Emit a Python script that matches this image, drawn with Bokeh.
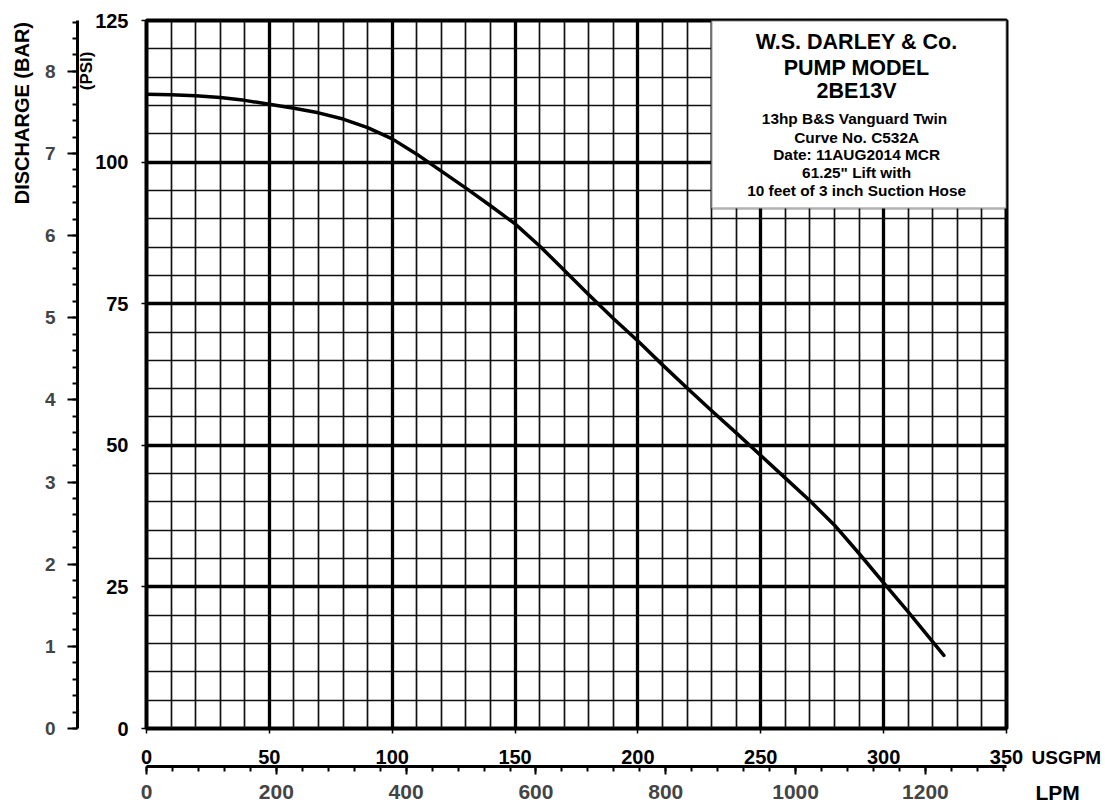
from bokeh.plotting import figure
from bokeh.layouts import row
from bokeh.models import (Range1d, LinearAxis, SingleIntervalTicker, BoxAnnotation,
                          Label, Title)
from bokeh.embed import file_html
from bokeh.resources import INLINE

# ---------------- data ----------------
flow_usgpm = [0, 10, 20, 30, 40, 50, 60, 70, 80, 90, 100, 110, 120, 130, 140, 150,
              160, 170, 180, 190, 200, 210, 220, 230, 240, 250, 260, 270, 280, 290,
              300, 310, 320, 324.5]
discharge_psi = [112.0, 111.9, 111.7, 111.4, 110.9, 110.2, 109.5, 108.7, 107.6, 106.1,
                 104.1, 101.4, 98.4, 95.4, 92.3, 89.1, 85.2, 80.9, 76.6, 72.4,
                 68.4, 64.2, 60.1, 56.1, 52.2, 48.2, 44.2, 40.2, 35.9, 30.9,
                 25.7, 20.6, 15.3, 12.9]

title_lines = ["W.S. DARLEY & Co.", "PUMP MODEL", "2BE13V"]
info_lines = ["13hp  B&S Vanguard Twin", "Curve No. C532A", "Date: 11AUG2014 MCR",
              '61.25" Lift with', "10 feet of 3 inch Suction Hose"]
y_title_bar = "DISCHARGE (BAR)"
y_title_psi = "(PSI)"
x_title_usgpm = "USGPM"
x_title_lpm = "LPM"

USGPM_MAX = 350
PSI_MAX = 125
PSI_PER_BAR = 14.5038
LPM_PER_USGPM = 3.78541

FONT = "Liberation Sans"

# ---------------- main figure ----------------
p = figure(width=1025, height=812, output_backend="svg", toolbar_location=None,
           title=None, x_range=Range1d(0, USGPM_MAX), y_range=Range1d(0, PSI_MAX),
           min_border_left=146, min_border_right=19, min_border_top=20,
           min_border_bottom=84)
p.background_fill_color = "white"
p.border_fill_color = "white"
p.outline_line_color = "black"
p.outline_line_width = 4

p.extra_x_ranges = {"lpm": Range1d(0, USGPM_MAX * LPM_PER_USGPM)}
p.extra_y_ranges = {"bar": Range1d(0, PSI_MAX / PSI_PER_BAR)}

x_ticker = SingleIntervalTicker(interval=50, num_minor_ticks=5)
y_ticker = SingleIntervalTicker(interval=25, num_minor_ticks=5)

xax = p.xaxis[0]
yax = p.yaxis[0]
xax.ticker = x_ticker
yax.ticker = y_ticker
p.xgrid[0].ticker = x_ticker
p.ygrid[0].ticker = y_ticker

for g in (p.xgrid[0], p.ygrid[0]):
    g.grid_line_color = "black"
    g.grid_line_width = 3.3
    g.minor_grid_line_color = "#111111"
    g.minor_grid_line_width = 1.7

for ax in (xax, yax):
    ax.axis_line_color = None
    ax.major_tick_line_color = "black"
    ax.major_tick_line_width = 1.5
    ax.major_tick_in = 0
    ax.major_tick_out = 5
    ax.minor_tick_line_color = None
    ax.major_label_text_font = FONT
    ax.major_label_text_font_style = "bold"
    ax.major_label_text_font_size = "20px"
    ax.major_label_text_color = "black"

xax.major_label_standoff = 16
yax.major_label_standoff = 13

# "(PSI)" title between the PSI labels and the BAR axis
psi_title = Title(text=y_title_psi, align="right", offset=31, standoff=-6,
                  vertical_align="bottom", text_font=FONT, text_font_style="bold",
                  text_font_size="17px", text_color="black")
p.add_layout(psi_title, "left")

# BAR axis (outer left)
bar_axis = LinearAxis(y_range_name="bar",
                      ticker=SingleIntervalTicker(interval=1, num_minor_ticks=5))
bar_axis.axis_line_color = "black"
bar_axis.axis_line_width = 3
bar_axis.major_tick_line_color = "black"
bar_axis.major_tick_line_width = 2
bar_axis.major_tick_in = 0
bar_axis.major_tick_out = 10
bar_axis.minor_tick_line_color = "black"
bar_axis.minor_tick_line_width = 2
bar_axis.minor_tick_in = 0
bar_axis.minor_tick_out = 5
bar_axis.major_label_text_font = FONT
bar_axis.major_label_text_font_style = "bold"
bar_axis.major_label_text_font_size = "19px"
bar_axis.major_label_standoff = 12
p.add_layout(bar_axis, "left")

discharge_title = Title(text=y_title_bar, align="right", offset=1.5, standoff=17,
                        vertical_align="bottom", text_font=FONT,
                        text_font_style="bold", text_font_size="20px",
                        text_color="black")
p.add_layout(discharge_title, "left")

# LPM axis (outer bottom)
lpm_axis = LinearAxis(x_range_name="lpm",
                      ticker=SingleIntervalTicker(interval=200, num_minor_ticks=5))
lpm_axis.axis_line_color = "black"
lpm_axis.axis_line_width = 3
lpm_axis.major_tick_line_color = "black"
lpm_axis.major_tick_line_width = 2
lpm_axis.major_tick_in = 0
lpm_axis.major_tick_out = 8
lpm_axis.minor_tick_line_color = "black"
lpm_axis.minor_tick_line_width = 2
lpm_axis.minor_tick_in = 0
lpm_axis.minor_tick_out = 5
lpm_axis.major_label_text_font = FONT
lpm_axis.major_label_text_font_style = "bold"
lpm_axis.major_label_text_font_size = "21px"
lpm_axis.major_label_standoff = 10
p.add_layout(lpm_axis, "below")

# ---------------- curve ----------------
p.line(flow_usgpm, discharge_psi, line_color="black", line_width=3.5,
       line_join="round", line_cap="round")

# ---------------- info box ----------------
box = BoxAnnotation(left=229.9, right=USGPM_MAX, top=PSI_MAX, bottom=91.8,
                    fill_color="white", fill_alpha=1.0,
                    line_color="black", line_width=2.5)
p.add_layout(box)

box_cx = 289.0
title_y = [121.29, 116.70, 112.55]
info_y = [107.61, 104.43, 101.43, 98.25, 94.99]
for t, yy in zip(title_lines, title_y):
    p.add_layout(Label(x=box_cx, y=yy, text=t, text_align="center",
                       text_baseline="middle", text_font=FONT,
                       text_font_style="bold", text_font_size="21.5px",
                       text_color="black"))
for t, yy in zip(info_lines, info_y):
    p.add_layout(Label(x=box_cx, y=yy, text=t, text_align="center",
                       text_baseline="middle", text_font=FONT,
                       text_font_style="bold", text_font_size="15.4px",
                       text_color="black"))

# ---------------- right strip with the unit names ----------------
side = figure(width=80, height=812, output_backend="svg", toolbar_location=None,
              title=None, x_range=Range1d(0, 1), y_range=Range1d(0, 1),
              x_axis_location=None, y_axis_location=None,
              min_border_left=0, min_border_right=0, min_border_top=20,
              min_border_bottom=84)
side.outline_line_color = None
side.background_fill_color = "white"
side.border_fill_color = "white"
side.xgrid.visible = False
side.ygrid.visible = False
side.add_layout(Title(text=x_title_usgpm, align="left", offset=6, standoff=35,
                      vertical_align="middle", text_font=FONT,
                      text_font_style="bold", text_font_size="19px",
                      text_color="black"), "below")
side.add_layout(Title(text=x_title_lpm, align="left", offset=10, standoff=-13,
                      vertical_align="middle", text_font=FONT,
                      text_font_style="bold", text_font_size="21px",
                      text_color="black"), "below")

layout = row(p, side)
open("out.html", "w").write(file_html(layout, INLINE))
